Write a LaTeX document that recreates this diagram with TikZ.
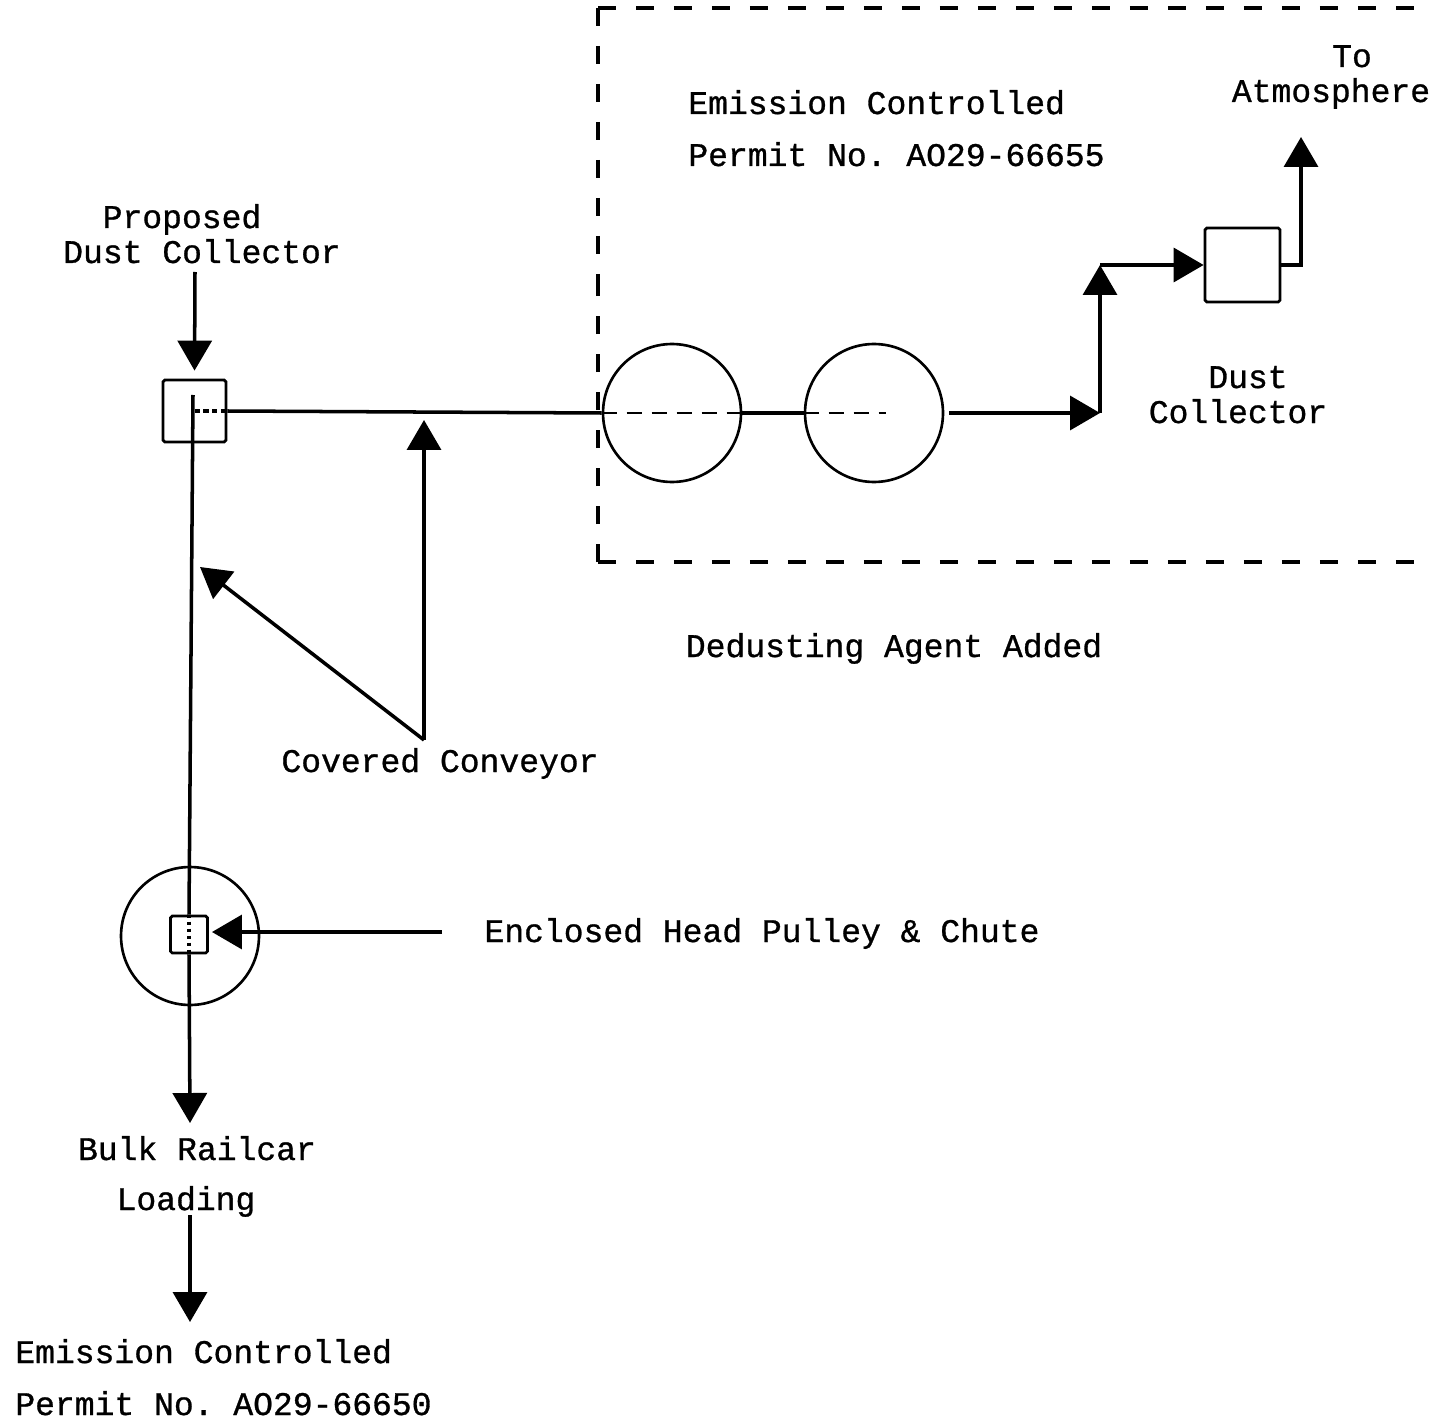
\documentclass[tikz,border=0pt]{standalone}
\usepackage{fontspec}
\setmonofont{Liberation Mono}[FakeBold=0.9]
\usetikzlibrary{arrows.meta}
\begin{document}
\begin{tikzpicture}[x=0.02cm,y=-0.02cm]
\tikzset{
  lbl/.style={font=\ttfamily\fontsize{18.8}{22}\selectfont, inner sep=0pt, anchor=base},
  ln/.style={line width=2pt},
  arr/.style={ln, -{Triangle[length=0.6cm,width=0.68cm]}},
  sqbox/.style={draw, line width=1.6pt, rounded corners=1pt, inner sep=0pt},
  tank/.style={circle, draw, line width=1.5pt, minimum size=2.76cm, inner sep=0pt},
  bound/.style={line width=2pt, dash pattern=on 0.36cm off 0.4cm},
}
\useasboundingbox (0,0) rectangle (1432,1425);

% boundary of the controlled area
\draw[bound] (598,8) -- (1432,8);
\draw[bound] (598,8) -- (598,290);
\draw[bound] (598,562) -- (598,290);
\draw[bound] (598,562) -- (1432,562);

% equipment
\node[sqbox, minimum width=1.26cm, minimum height=1.24cm] (pdc) at (194.5,411) {};
\node[sqbox, minimum width=1.5cm, minimum height=1.48cm] (dc) at (1242.5,265) {};
\node[sqbox, minimum width=0.74cm, minimum height=0.74cm] (sq) at (189,934.5) {};
\node[tank] (t1) at (672,413) {};
\node[tank] (t2) at (874,413) {};
\node[tank] (hp) at (190,936) {};

% coordinates
\coordinate (pdcin) at (195,272);
\coordinate (pdctop) at (193,395);
\coordinate (t2dash) at (886,413);
\coordinate (b1) at (1100,413);
\coordinate (b2) at (1100,265);
\coordinate (b3) at (1301,265);
\coordinate (atm) at (1301,137);
\coordinate (cc) at (424,740);
\coordinate (ccup) at (424,420);
\coordinate (ccdiag) at (200,567);
\coordinate (ehp) at (442,932);
\coordinate (ehptip) at (212,932);
\coordinate (rail) at (190,1123);
\coordinate (railout) at (190,1215);
\coordinate (permit) at (190,1322);

% connectors
\draw[arr, shorten >=0.16cm] (pdcin) -- (pdc.north);
\draw[ln] (pdctop) -- (sq.north);
\draw[ln, densely dashed] (pdc.center) -- (pdc.east);
\draw[ln] (pdc.east) -- (t1.west);
\draw[line width=1.6pt, dash pattern=on 0.3cm off 0.2cm] (t1.west) -- (t1.east);
\draw[ln] (t1.east) -- (t2.west);
\draw[line width=1.6pt, dash pattern=on 0.3cm off 0.2cm] (t2.west) -- (t2dash);
\draw[arr, shorten <=0.1cm] (t2.east) -- (b1);
\draw[arr] (b1) -- (b2);
\draw[arr] (b2) -- (dc.west);
\draw[arr] (dc.east) -- (b3) -- (atm);
\draw[arr] (cc) -- (ccup);
\draw[arr] (cc) -- (ccdiag);
\draw[arr] (ehp) -- (ehptip);
\draw[ln, dotted] (sq.north) -- (sq.south);
\draw[arr] (sq.south) -- (rail);
\draw[arr] (railout) -- (permit);

% labels
\node[lbl] (l1) at (1352,67) {To};
\node[lbl] (l2) at (1331,102) {Atmosphere};
\node[lbl, anchor=base west] (l3) at (688,114) {Emission Controlled};
\node[lbl, anchor=base west] (l4) at (688,166) {Permit No. AO29-66655};
\node[lbl] (l5) at (182,228) {Proposed};
\node[lbl] (l6) at (202,263) {Dust Collector};
\node[lbl] (l7) at (1248,388) {Dust};
\node[lbl] (l8) at (1238,423) {Collector};
\node[lbl] (l9) at (894,657) {Dedusting Agent Added};
\node[lbl] (l10) at (440,772) {Covered Conveyor};
\node[lbl] (l11) at (762,942) {Enclosed Head Pulley \& Chute};
\node[lbl] (l12) at (197,1160) {Bulk Railcar};
\node[lbl] (l13) at (186,1210) {Loading};
\node[lbl, anchor=base west] (l14) at (15,1363) {Emission Controlled};
\node[lbl, anchor=base west] (l15) at (15,1415) {Permit No. AO29-66650};
\end{tikzpicture}
\end{document}
